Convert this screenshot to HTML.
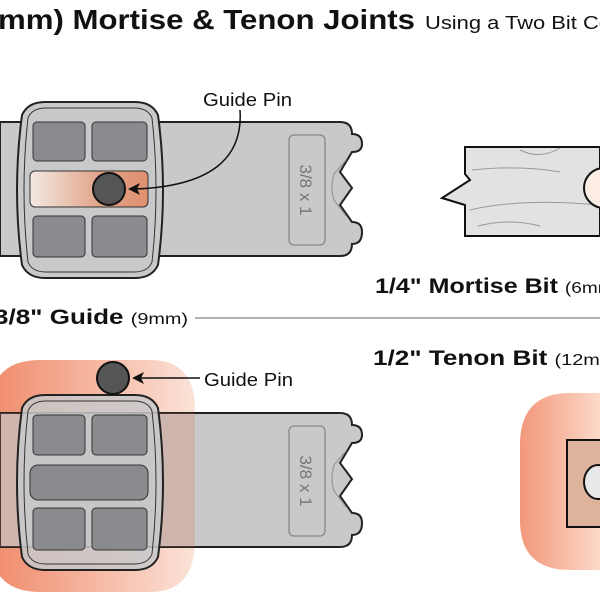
<!DOCTYPE html>
<html><head><style>body{margin:0;background:#fff}svg{display:block}</style></head><body>
<svg width="600" height="600" viewBox="0 0 600 600" xmlns="http://www.w3.org/2000/svg" font-family="Liberation Sans, sans-serif">
<defs>
<linearGradient id="slot" x1="0" x2="1"><stop offset="0" stop-color="#f3e9e4"/><stop offset="0.6" stop-color="#e0a285"/><stop offset="1" stop-color="#e09070"/></linearGradient>
<linearGradient id="glow" x1="0" x2="1"><stop offset="0" stop-color="#f08a6a"/><stop offset="1" stop-color="#fbe3d8"/></linearGradient>
<linearGradient id="glow2" x1="0" x2="1"><stop offset="0" stop-color="#f2977a"/><stop offset="1" stop-color="#fcd9c8"/></linearGradient>
</defs>
<text x="-2" y="29" font-size="28" font-weight="bold" fill="#111" textLength="417" lengthAdjust="spacingAndGlyphs">mm) Mortise &amp; Tenon Joints</text>
<text x="425" y="29" font-size="18" fill="#111" textLength="186" lengthAdjust="spacingAndGlyphs">Using a Two Bit Co</text>

<!-- top bar -->
<path d="M0 122 H340 Q352 122 352 134 Q362 134 362 144 Q362 152 352 152 L340 172 L352 188 L340 205 L352 222 Q362 222 362 232 Q362 244 352 244 Q352 256 340 256 H0 Z" fill="#c8c9cb" stroke="#222" stroke-width="2"/>
<rect x="289" y="135" width="36" height="110" rx="5" fill="none" stroke="#888" stroke-width="1.3"/>
<text transform="translate(300,190) rotate(90)" text-anchor="middle" font-size="17" fill="#777">3/8 x 1</text>
<path d="M346 160 L334 174 Q330 188 334 200 L346 216" fill="none" stroke="#999" stroke-width="1.3"/>
<path d="M22 115 Q28 102 45 102 H135 Q152 102 158 115 Q168 190 158 265 Q152 278 135 278 H45 Q28 278 22 265 Q12 190 22 115 Z" fill="#c8c9cb" stroke="#222" stroke-width="2"/>
<path d="M28 118 Q32 108 46 108 H134 Q148 108 152 118 Q160 190 152 262 Q148 272 134 272 H46 Q32 272 28 262 Q20 190 28 118 Z" fill="none" stroke="#333" stroke-width="1"/>
<rect x="33" y="122" width="52" height="39" rx="4" fill="#8a8b8e" stroke="#333"/>
<rect x="92" y="122" width="55" height="39" rx="4" fill="#8a8b8e" stroke="#333"/>
<rect x="30" y="171" width="118" height="36" rx="5" fill="url(#slot)" stroke="#333"/>
<rect x="33" y="216" width="52" height="41" rx="4" fill="#8a8b8e" stroke="#333"/>
<rect x="92" y="216" width="55" height="41" rx="4" fill="#8a8b8e" stroke="#333"/>
<circle cx="109" cy="189" r="16" fill="#555" stroke="#111" stroke-width="2"/>
<path d="M240 110 Q245 185 135 189" fill="none" stroke="#111" stroke-width="1.5"/>
<path d="M128 189 L140 183 L137 189 L140 195 Z" fill="#111"/>
<text x="203" y="106" font-size="18" fill="#111" textLength="89" lengthAdjust="spacingAndGlyphs">Guide Pin</text>

<!-- right top wood -->
<path d="M465 147 H600 V236 H465 V205 L442 198 L470 180 L465 174 Z" fill="#e1e2e4" stroke="#111" stroke-width="2"/>
<path d="M472 170 Q520 165 560 172 M470 210 Q520 198 600 205 M478 226 Q510 218 540 226 M520 150 Q540 160 560 148" fill="none" stroke="#999" stroke-width="1"/>
<ellipse cx="604" cy="188" rx="20" ry="20" fill="#fdece4" stroke="#111" stroke-width="2"/>
<text x="375" y="293" font-size="21" font-weight="bold" fill="#111" textLength="245" lengthAdjust="spacingAndGlyphs">1/4" Mortise Bit <tspan font-size="16" font-weight="normal">(6mm)</tspan></text>

<line x1="195" y1="318" x2="600" y2="318" stroke="#999" stroke-width="1.5"/>
<text x="-6" y="324" font-size="21" font-weight="bold" fill="#111" textLength="194" lengthAdjust="spacingAndGlyphs">3/8" Guide <tspan font-size="16" font-weight="normal">(9mm)</tspan></text>
<text x="373" y="365" font-size="21" font-weight="bold" fill="#111" textLength="250" lengthAdjust="spacingAndGlyphs">1/2" Tenon Bit <tspan font-size="16" font-weight="normal">(12mm)</tspan></text>

<!-- bottom -->
<path d="M40 360 H150 Q195 360 195 410 V540 Q195 592 150 592 H40 Q-10 592 -10 540 V410 Q-10 360 40 360 Z" fill="url(#glow)"/>
<path d="M0 413 H340 Q352 413 352 425 Q362 425 362 435 Q362 443 352 443 L340 463 L352 479 L340 496 L352 513 Q362 513 362 523 Q362 535 352 535 Q352 547 340 547 H0 Z" fill="#c8c9cb" stroke="#222" stroke-width="2"/>
<rect x="0" y="413" width="195" height="134" fill="#e07a55" opacity="0.25"/>
<rect x="289" y="426" width="36" height="110" rx="5" fill="none" stroke="#888" stroke-width="1.3"/>
<text transform="translate(300,481) rotate(90)" text-anchor="middle" font-size="17" fill="#777">3/8 x 1</text>
<path d="M346 451 L334 465 Q330 479 334 491 L346 507" fill="none" stroke="#999" stroke-width="1.3"/>
<path d="M22 408 Q28 395 45 395 H135 Q152 395 158 408 Q168 482 158 557 Q152 570 135 570 H45 Q28 570 22 557 Q12 482 22 408 Z" fill="#c8c9cb" fill-opacity="0.85" stroke="#222" stroke-width="2"/>
<path d="M28 411 Q32 401 46 401 H134 Q148 401 152 411 Q160 482 152 554 Q148 564 134 564 H46 Q32 564 28 554 Q20 482 28 411 Z" fill="none" stroke="#333" stroke-width="1"/>
<rect x="33" y="415" width="52" height="40" rx="4" fill="#8a8b8e" stroke="#333"/>
<rect x="92" y="415" width="55" height="40" rx="4" fill="#8a8b8e" stroke="#333"/>
<rect x="30" y="465" width="118" height="35" rx="8" fill="#8a8b8e" stroke="#333"/>
<rect x="33" y="508" width="52" height="42" rx="4" fill="#8a8b8e" stroke="#333"/>
<rect x="92" y="508" width="55" height="42" rx="4" fill="#8a8b8e" stroke="#333"/>
<circle cx="113" cy="378" r="16" fill="#555" stroke="#111" stroke-width="2"/>
<line x1="140" y1="378" x2="200" y2="378" stroke="#111" stroke-width="1.5"/>
<path d="M132 378 L144 372 L141 378 L144 384 Z" fill="#111"/>
<text x="204" y="386" font-size="18" fill="#111" textLength="89" lengthAdjust="spacingAndGlyphs">Guide Pin</text>

<!-- right bottom -->
<path d="M570 393 H600 V570 H570 Q520 570 520 520 V445 Q520 393 570 393 Z" fill="url(#glow2)"/>
<rect x="567" y="440" width="40" height="87" fill="#deb39c" stroke="#111" stroke-width="2"/>
<ellipse cx="598" cy="482" rx="14" ry="17" fill="#e8e8ea" stroke="#111" stroke-width="2"/>
</svg>
</body></html>
